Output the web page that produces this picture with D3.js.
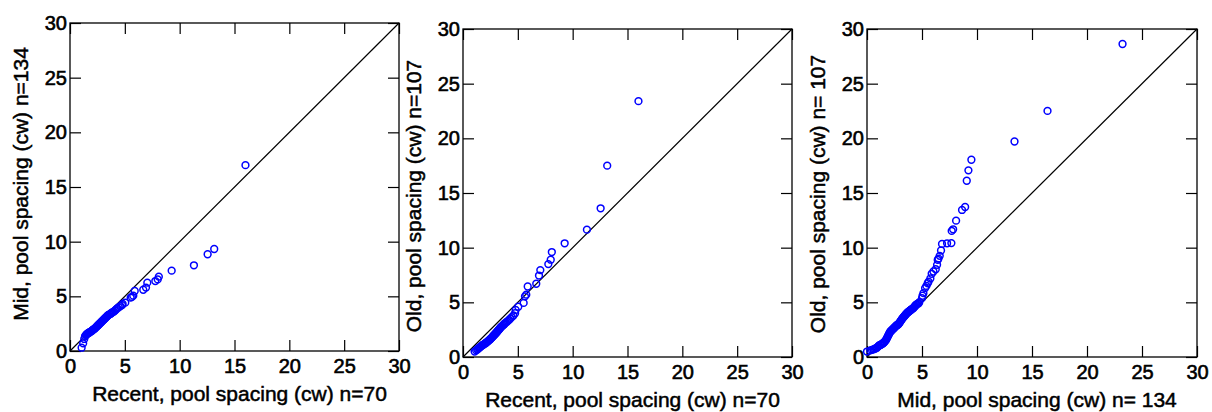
<html>
<head>
    <style>
        body { margin: 0; background: #fff; }
        svg text { font-family: Arial, "Liberation Sans", sans-serif; fill: #000; }
    </style>
</head>
<body>
<svg width='1212' height='412'></svg>
<script src='https://cdnjs.cloudflare.com/ajax/libs/d3/7.8.5/d3.min.js'></script>
<script>
    // quantiles
    const recent = [1.06, 1.2, 1.3, 1.37, 1.45, 1.5, 1.55, 1.6, 1.7, 1.75,
        1.8, 1.9, 2.0, 2.05, 2.1, 2.2, 2.25, 2.3, 2.4, 2.45,
        2.5, 2.55, 2.6, 2.65, 2.7, 2.75, 2.8, 2.85, 2.9, 2.95,
        3.0, 3.05, 3.1, 3.15, 3.2, 3.25, 3.3, 3.35, 3.4, 3.45,
        3.5, 3.6, 3.7, 3.75, 3.8, 3.9, 4.0, 4.1, 4.2, 4.3,
        4.45, 4.6, 4.75, 4.8, 5.04, 5.53, 5.65, 5.77, 5.9, 6.68,
        6.93, 7.05, 7.78, 8.0, 8.1, 9.27, 11.3, 12.55, 13.15, 16.0];

    const midVsRecent = [0.3, 0.7, 1.1, 1.35, 1.45, 1.5, 1.55, 1.6, 1.65, 1.7,
        1.72, 1.78, 1.85, 1.9, 1.95, 2.0, 2.05, 2.1, 2.2, 2.25,
        2.3, 2.35, 2.4, 2.45, 2.5, 2.55, 2.6, 2.65, 2.7, 2.75,
        2.8, 2.85, 2.9, 2.95, 3.0, 3.05, 3.1, 3.15, 3.2, 3.25,
        3.3, 3.35, 3.4, 3.45, 3.5, 3.55, 3.6, 3.7, 3.8, 3.9,
        4.0, 4.1, 4.2, 4.3, 4.42, 4.88, 4.95, 5.06, 5.49, 5.6,
        5.8, 6.25, 6.4, 6.55, 6.8, 7.35, 7.84, 8.85, 9.33, 17.0];

    const oldVsRecent = [0.5, 0.6, 0.68, 0.75, 0.82, 0.86, 0.9, 0.95, 1.02, 1.06,
        1.1, 1.16, 1.22, 1.26, 1.3, 1.38, 1.42, 1.47, 1.55, 1.6,
        1.65, 1.7, 1.75, 1.8, 1.86, 1.92, 1.97, 2.02, 2.08, 2.13,
        2.18, 2.24, 2.3, 2.36, 2.42, 2.48, 2.54, 2.6, 2.66, 2.72,
        2.78, 2.86, 2.95, 3.0, 3.06, 3.14, 3.22, 3.3, 3.4, 3.5,
        3.65, 3.8, 4.0, 4.3, 4.6, 4.95, 5.55, 5.7, 6.45, 6.7,
        7.45, 7.95, 8.5, 8.9, 9.6, 10.4, 11.65, 13.6, 17.5, 23.4];

    const mid107 = [0.0, 0.3, 0.45, 0.6, 0.7, 0.8, 0.9, 1.0, 1.05, 1.1,
        1.2, 1.25, 1.3, 1.4, 1.45, 1.5, 1.55, 1.6, 1.7, 1.75,
        1.8, 1.85, 1.9, 1.95, 2.0, 2.05, 2.1, 2.15, 2.2, 2.25,
        2.3, 2.35, 2.4, 2.45, 2.5, 2.55, 2.6, 2.65, 2.7, 2.75,
        2.8, 2.85, 2.9, 2.95, 3.0, 3.05, 3.1, 3.15, 3.2, 3.25,
        3.3, 3.35, 3.4, 3.45, 3.5, 3.55, 3.6, 3.65, 3.7, 3.75,
        3.8, 3.85, 3.9, 3.95, 4.0, 4.05, 4.1, 4.2, 4.25, 4.3,
        4.35, 4.4, 4.45, 4.5, 4.6, 4.7, 4.76, 5.0, 5.05, 5.13,
        5.28, 5.4, 5.52, 5.6, 5.76, 5.88, 6.04, 6.25, 6.37, 6.43,
        6.5, 6.61, 6.73, 6.82, 7.28, 7.67, 7.7, 7.83, 8.1, 8.64,
        8.92, 9.07, 9.22, 9.49, 13.41, 16.41, 23.23];

    const old107 = [0.5, 0.6, 0.65, 0.7, 0.75, 0.8, 0.85, 0.95, 1.0, 1.05,
        1.1, 1.12, 1.15, 1.2, 1.25, 1.3, 1.35, 1.4, 1.5, 1.6,
        1.7, 1.8, 1.9, 2.0, 2.1, 2.2, 2.3, 2.35, 2.4, 2.45,
        2.5, 2.55, 2.6, 2.65, 2.7, 2.75, 2.8, 2.85, 2.9, 2.95,
        2.95, 3.0, 3.05, 3.12, 3.2, 3.28, 3.35, 3.42, 3.5, 3.56,
        3.62, 3.68, 3.74, 3.8, 3.86, 3.92, 3.98, 4.04, 4.08, 4.12,
        4.16, 4.2, 4.24, 4.28, 4.32, 4.36, 4.4, 4.46, 4.52, 4.58,
        4.64, 4.7, 4.76, 4.8, 4.86, 4.92, 5.02, 5.38, 5.6, 5.84,
        6.3, 6.5, 6.75, 6.9, 7.18, 7.61, 7.82, 8.03, 8.43, 8.88,
        9.0, 9.25, 9.74, 10.34, 10.4, 10.42, 11.53, 11.68, 12.47, 13.45,
        13.72, 16.12, 17.07, 18.04, 19.71, 22.51, 28.63];

    const ticks = [0, 5, 10, 15, 20, 25, 30];

    const panels = [
        {x: recent, y: midVsRecent, xLabel: 'Recent, pool spacing (cw) n=70', yLabel: 'Mid, pool spacing (cw) n=134',
            left: 70, right: 399, top: 23, bottom: 351, yLabelMid: 184},
        {x: recent, y: oldVsRecent, xLabel: 'Recent, pool spacing (cw) n=70', yLabel: 'Old, pool spacing (cw) n=107',
            left: 463, right: 792, top: 29, bottom: 357, yLabelMid: 196},
        {x: mid107, y: old107, xLabel: 'Mid, pool spacing (cw) n= 134', yLabel: 'Old, pool spacing (cw) n= 107',
            left: 867, right: 1197, top: 29, bottom: 357, yLabelMid: 194}
    ];

    const svg = d3.select('svg');
    const tickLen = 11;

    function drawPanel (p) {
        const x = d3.scaleLinear().domain([0, 30]).range([p.left, p.right]);
        const y = d3.scaleLinear().domain([0, 30]).range([p.bottom, p.top]);
        const g = svg.append('g');

        // ticks inward on all four sides
        g.append('g').attr('transform', `translate(0,${p.bottom})`)
            .call(d3.axisBottom(x).tickValues(ticks).tickSizeInner(-tickLen).tickSizeOuter(0).tickPadding(8));
        g.append('g').attr('transform', `translate(0,${p.top})`)
            .call(d3.axisTop(x).tickValues(ticks).tickSizeInner(-tickLen).tickSizeOuter(0).tickFormat(''));
        g.append('g').attr('transform', `translate(${p.left},0)`)
            .call(d3.axisLeft(y).tickValues(ticks).tickSizeInner(-tickLen).tickSizeOuter(0).tickPadding(3));
        g.append('g').attr('transform', `translate(${p.right},0)`)
            .call(d3.axisRight(y).tickValues(ticks).tickSizeInner(-tickLen).tickSizeOuter(0).tickFormat(''));

        g.selectAll('.domain').remove();
        g.selectAll('.tick line').attr('stroke', '#000').attr('stroke-width', 1.2);
        g.selectAll('.tick text').attr('font-size', 20).attr('fill', '#000')
            .attr('stroke', '#000').attr('stroke-width', 0.6)
            .attr('font-family', 'Arial, "Liberation Sans", sans-serif');

        g.append('rect')
            .attr('x', p.left).attr('y', p.top)
            .attr('width', p.right - p.left).attr('height', p.bottom - p.top)
            .attr('fill', 'none').attr('stroke', '#000').attr('stroke-width', 1.3);

        g.append('line')
            .attr('x1', x(0)).attr('y1', y(0))
            .attr('x2', x(30)).attr('y2', y(30))
            .attr('stroke', '#000').attr('stroke-width', 1.2);

        g.selectAll('circle')
            .data(p.x.map((v, i) => [v, p.y[i]]))
            .enter()
            .append('circle')
            .attr('cx', d => x(d[0]))
            .attr('cy', d => y(d[1]))
            .attr('r', 3.4)
            .attr('fill', 'none')
            .attr('stroke', '#0000ff')
            .attr('stroke-width', 1.5);

        g.append('text')
            .attr('x', (p.left + p.right) / 2 + 5)
            .attr('y', p.bottom + 50)
            .attr('text-anchor', 'middle')
            .attr('font-size', 21)
            .attr('stroke', '#000').attr('stroke-width', 0.5)
            .text(p.xLabel);

        g.append('text')
            .attr('transform', `translate(${p.left - 42},${p.yLabelMid}) rotate(-90)`)
            .attr('text-anchor', 'middle')
            .attr('font-size', 21)
            .attr('stroke', '#000').attr('stroke-width', 0.5)
            .text(p.yLabel);
    }

    panels.map(drawPanel);
</script>
</body>
</html>
